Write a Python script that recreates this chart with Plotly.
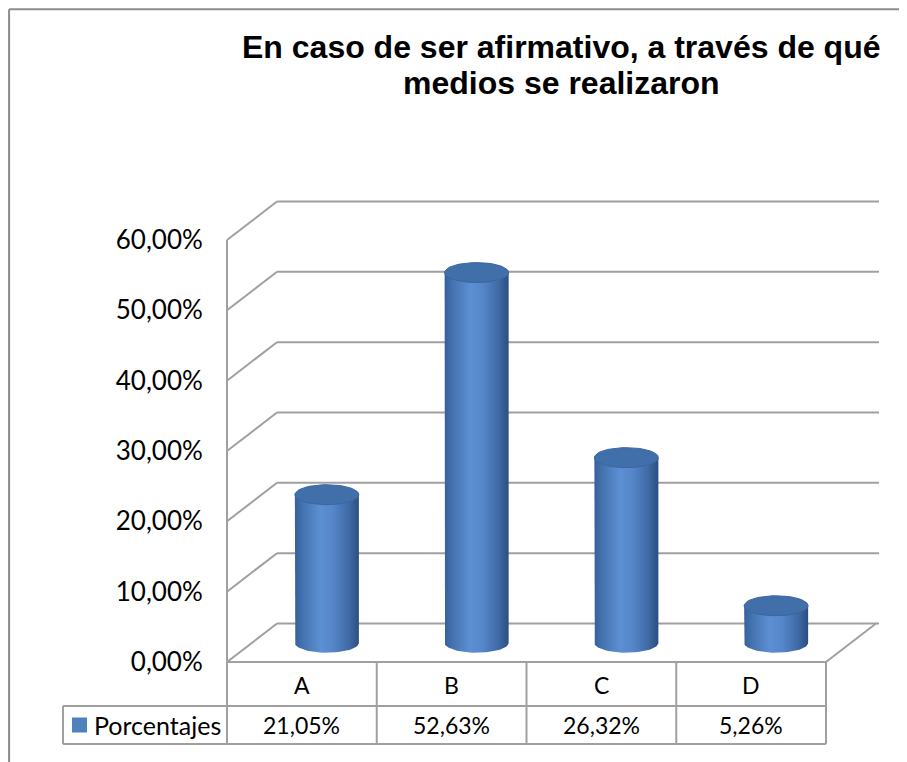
import numpy as np
import plotly.graph_objects as go

# ---- data ----
categories = ["A", "B", "C", "D"]
values = [0.2105, 0.5263, 0.2632, 0.0526]
value_labels = ["21,05%", "52,63%", "26,32%", "5,26%"]
series_name = "Porcentajes"
tick_vals = [0.0, 0.1, 0.2, 0.3, 0.4, 0.5, 0.6]
tick_text = ["0,00%", "10,00%", "20,00%", "30,00%", "40,00%", "50,00%", "60,00%"]
title_lines = ["En caso de ser afirmativo, a través de qué", "medios se realizaron"]

# ---- geometry (figure / axis layout) ----
OFF = 8                      # page body margin
W, H = 907 - OFF, 762 - OFF
X0_PX, X1_PX = 227 - OFF, 826 - OFF      # front floor left/right edges in px
Y0_PX, Y60_PX = 662 - OFF, 240 - OFF     # 0% and 60% on the front axis
ppx = (X1_PX - X0_PX) / len(categories)
ppy = (Y0_PX - Y60_PX) / 0.6
xr = [-0.5 - X0_PX / ppx, -0.5 + (W - X0_PX) / ppx]
yr = [-(H - Y0_PX) / ppy, Y0_PX / ppy]
dx = 50 / ppx        # depth offset (x)
dy = 38.5 / ppy      # depth offset (y)
xl, xrt = -0.5, len(categories) - 0.5

def ypx(p):
    return (Y0_PX - (p - OFF)) / ppy

def xpx(p):
    return ((p - OFF) - X0_PX) / ppx - 0.5

grid_col = "#a0a0a0"
lw = 2
shapes = []
for v in tick_vals:
    shapes.append(dict(type="line", xref="x", yref="y", x0=xl + dx, x1=xrt + dx + 0.02,
                       y0=v + dy, y1=v + dy, line=dict(color=grid_col, width=lw), layer="below"))
    shapes.append(dict(type="line", xref="x", yref="y", x0=xl, x1=xl + dx,
                       y0=v, y1=v + dy, line=dict(color=grid_col, width=lw), layer="below"))
shapes.append(dict(type="line", xref="x", yref="y", x0=xrt, x1=xrt + dx, y0=0, y1=dy,
                   line=dict(color=grid_col, width=lw), layer="below"))
shapes.append(dict(type="line", xref="x", yref="y", x0=xl, x1=xrt, y0=0, y1=0,
                   line=dict(color=grid_col, width=lw), layer="below"))
r1, r2 = ypx(706), ypx(744)
shapes.append(dict(type="line", xref="x", yref="y", x0=xl, x1=xl, y0=r2, y1=0.6,
                   line=dict(color=grid_col, width=lw), layer="below"))
for i in range(len(categories)):
    xb = i + 0.5
    shapes.append(dict(type="line", xref="x", yref="y", x0=xb, x1=xb, y0=r2, y1=0,
                       line=dict(color=grid_col, width=lw), layer="below"))
leg_left = xpx(63)
for yy in (r1, r2):
    shapes.append(dict(type="line", xref="x", yref="y", x0=leg_left, x1=xrt, y0=yy, y1=yy,
                       line=dict(color=grid_col, width=lw), layer="below"))
shapes.append(dict(type="line", xref="x", yref="y", x0=leg_left, x1=leg_left, y0=r1, y1=r2,
                   line=dict(color=grid_col, width=lw), layer="below"))
# outer chart border (left and top edges)
shapes.append(dict(type="line", xref="paper", yref="paper", x0=0.0012, x1=0.0012,
                   y0=-0.02, y1=0.9985, line=dict(color="#8c8c8c", width=2)))
shapes.append(dict(type="line", xref="paper", yref="paper", x0=0.0012, x1=1.02,
                   y0=0.9985, y1=0.9985, line=dict(color="#8c8c8c", width=2)))

fig = go.Figure()

# cylinders
hw = 32 / ppx
ey = 10 / ppy
base = dy / 2
t = np.linspace(0, np.pi, 40)
body_scale = [[0, "#36609a"], [0.12, "#4472ae"], [0.4, "#5c8fd3"], [0.6, "#5586c9"],
              [0.85, "#3e69a4"], [1, "#2c4e7f"]]
for i, v in enumerate(values):
    cx = i + dx / 2
    bx = list(cx - hw * np.cos(t))
    by = list(base - ey * np.sin(t))
    xs = [cx - hw] + bx + [cx + hw, cx - hw]
    ys = [base + v] + by + [base + v, base + v]
    fig.add_trace(go.Scatter(x=xs, y=ys, mode="lines", fill="toself",
                             line=dict(width=0, color="rgba(0,0,0,0)"),
                             fillgradient=dict(type="horizontal", colorscale=body_scale),
                             hoverinfo="skip", showlegend=False))
    tt = np.linspace(0, 2 * np.pi, 60)
    fig.add_trace(go.Scatter(x=cx + hw * np.cos(tt), y=base + v + ey * np.sin(tt),
                             mode="lines", fill="toself",
                             line=dict(width=1, color="#3a66a1"), fillcolor="#416faa",
                             hoverinfo="skip", showlegend=False))

# legend square
fig.add_trace(go.Scatter(x=[xpx(79.5)], y=[ypx(725)], mode="markers",
                         marker=dict(symbol="square", size=15, color="#4f81bd"),
                         hoverinfo="skip", showlegend=False))

ann = []
tfont = dict(family="Lato, Carlito, sans-serif", size=23, color="#000000")
for i, (c, lab) in enumerate(zip(categories, value_labels)):
    ann.append(dict(x=i, y=ypx(685), xref="x", yref="y", text=c, showarrow=False, font=tfont))
    ann.append(dict(x=i, y=ypx(725), xref="x", yref="y", text=lab, showarrow=False, font=tfont))
ann.append(dict(x=xpx(92), y=ypx(725), xref="x", yref="y", text=series_name, showarrow=False,
                xanchor="left", font=dict(family="Lato, Carlito, sans-serif", size=25, color="#000")))
for line_txt, yp in zip(title_lines, (47, 83)):
    ann.append(dict(x=(561 - OFF) / W, y=1 - (yp - OFF) / H, xref="paper", yref="paper",
                    text="<b>" + line_txt + "</b>", showarrow=False, xanchor="center",
                    yanchor="middle",
                    font=dict(family="Liberation Sans, Arial, sans-serif", size=32, color="#000")))

fig.update_layout(
    width=W, height=H, margin=dict(l=0, r=0, t=0, b=0),
    paper_bgcolor="white", plot_bgcolor="white",
    xaxis=dict(range=xr, domain=[0, 1], visible=False, fixedrange=True),
    yaxis=dict(range=yr, domain=[0, 1], anchor="free", position=X0_PX / W,
               tickvals=tick_vals, ticktext=tick_text, showgrid=False, zeroline=False,
               showline=False, ticks="outside", ticklen=19, tickcolor="rgba(0,0,0,0)",
               tickfont=dict(family="Lato, Carlito, sans-serif", size=26, color="#000")),
    shapes=shapes, annotations=ann, showlegend=False,
)

fig.write_html("out.html")
